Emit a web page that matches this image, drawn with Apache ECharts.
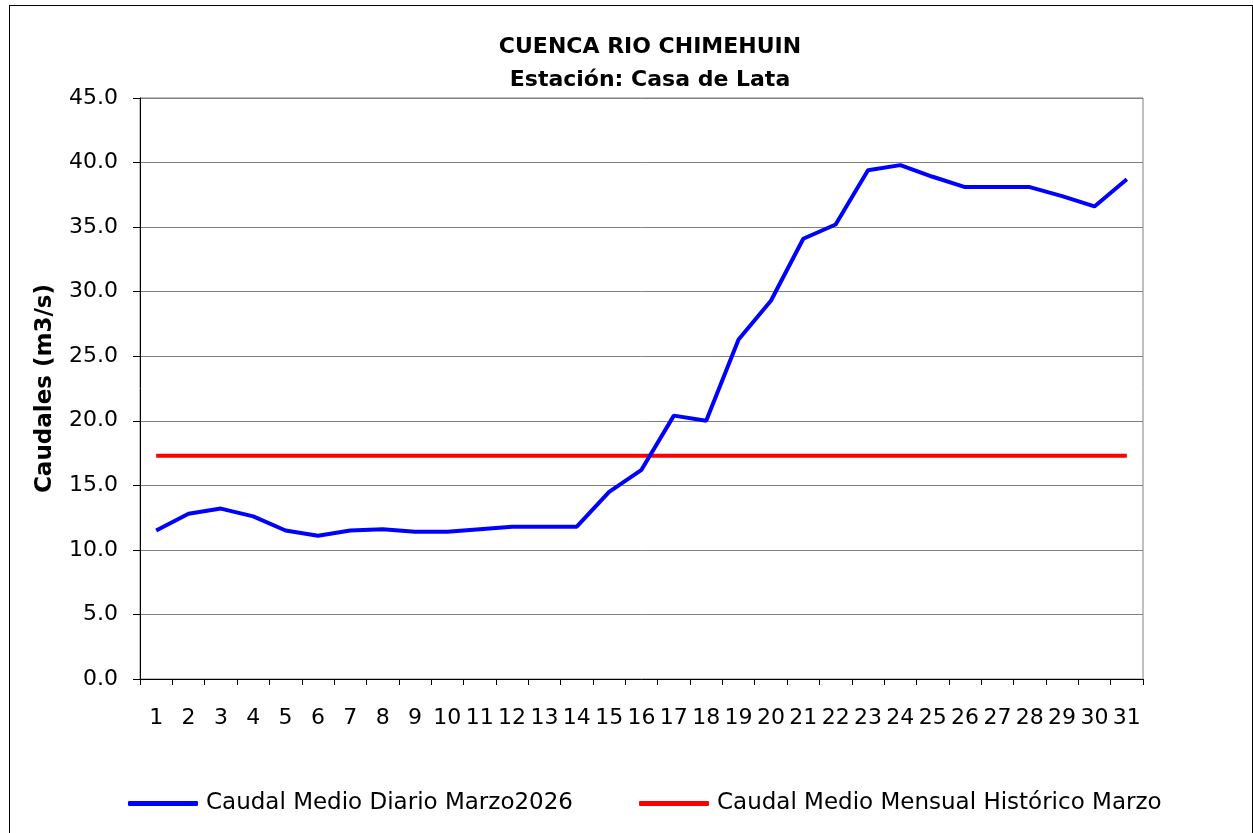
<!DOCTYPE html>
<html>
<head>
<meta charset="utf-8">
<script src="https://cdn.jsdelivr.net/npm/echarts@6/dist/echarts.min.js"></script>
<style>
  body { margin: 0; overflow: hidden; background: #fff; }
  #frame { position: absolute; left: 9px; top: 5px; width: 1242px; height: 840px; border: 1px solid #000; }
  #chart { position: absolute; left: 0; top: 0; width: 1253px; height: 833px; }
</style>
</head>
<body>
<div id="frame"></div>
<div id="chart"></div>
<script>
// dias del mes
const dias = ["1","2","3","4","5","6","7","8","9","10","11","12","13","14","15","16",
  "17","18","19","20","21","22","23","24","25","26","27","28","29","30","31"];
// caudal medio diario marzo 2026 (m3/s)
const caudalDiario = [11.5, 12.8, 13.2, 12.6, 11.5, 11.1, 11.5, 11.6, 11.4, 11.4, 11.6,
  11.8, 11.8, 11.8, 14.5, 16.2, 20.4, 20.0, 26.3, 29.3, 34.1, 35.2, 39.4, 39.8, 38.9,
  38.1, 38.1, 38.1, 37.4, 36.6, 38.7];
// caudal medio mensual historico marzo
const caudalHistorico = [17.3, 17.3, 17.3, 17.3, 17.3, 17.3, 17.3, 17.3, 17.3, 17.3, 17.3,
  17.3, 17.3, 17.3, 17.3, 17.3, 17.3, 17.3, 17.3, 17.3, 17.3, 17.3, 17.3, 17.3, 17.3,
  17.3, 17.3, 17.3, 17.3, 17.3, 17.3];

const fuente = "DejaVu Sans";
const myChart = echarts.init(document.getElementById("chart"));
myChart.setOption({
  animation: false,
  textStyle: { fontFamily: fuente, color: "#000" },
  title: {
    text: "CUENCA RIO CHIMEHUIN\nEstación: Casa de Lata",
    left: 645,
    top: 26,
    textAlign: "center",
    textStyle: { fontFamily: fuente, fontSize: 22, fontWeight: "bold", color: "#000", lineHeight: 33 },
  },
  legend: {
    left: 123,
    top: 787,
    icon: "roundRect",
    itemWidth: 70,
    itemHeight: 5,
    itemGap: 66,
    textStyle: { fontFamily: fuente, fontSize: 23, color: "#000", padding: [0, 0, 0, 3] },
    data: ["Caudal Medio Diario Marzo2026", "Caudal Medio Mensual Histórico Marzo"],
  },
  grid: {
    left: 140,
    right: 110,
    top: 98,
    bottom: 154,
    show: true,
    borderColor: "#808080",
    borderWidth: 1,
  },
  xAxis: {
    type: "category",
    data: dias,
    boundaryGap: true,
    axisLine: { lineStyle: { color: "#000", width: 1 } },
    axisTick: { show: true, alignWithLabel: false, length: 6, lineStyle: { color: "#000" } },
    axisLabel: { interval: 0, fontSize: 22, color: "#000", margin: 28, fontFamily: fuente },
    splitLine: { show: false },
  },
  yAxis: {
    type: "value",
    min: 0,
    max: 45,
    interval: 5,
    name: "Caudales (m3/s)",
    nameLocation: "middle",
    nameGap: 83,
    nameTextStyle: { fontFamily: fuente, fontSize: 23, fontWeight: "bold", color: "#000" },
    axisLine: { show: true, lineStyle: { color: "#000", width: 1 } },
    axisTick: { show: true, length: 7, lineStyle: { color: "#000" } },
    axisLabel: {
      fontSize: 22,
      color: "#000",
      margin: 22,
      fontFamily: fuente,
      formatter: (v) => v.toFixed(1),
    },
    splitLine: { lineStyle: { color: "#808080", width: 1 } },
  },
  series: [
    {
      name: "Caudal Medio Diario Marzo2026",
      type: "line",
      data: caudalDiario,
      symbol: "none",
      lineStyle: { color: "#0000ff", width: 4 },
      itemStyle: { color: "#0000ff" },
      z: 3,
    },
    {
      name: "Caudal Medio Mensual Histórico Marzo",
      type: "line",
      data: caudalHistorico,
      symbol: "none",
      lineStyle: { color: "#ff0000", width: 4 },
      itemStyle: { color: "#ff0000" },
      z: 2,
    },
  ],
});
</script>
</body>
</html>
